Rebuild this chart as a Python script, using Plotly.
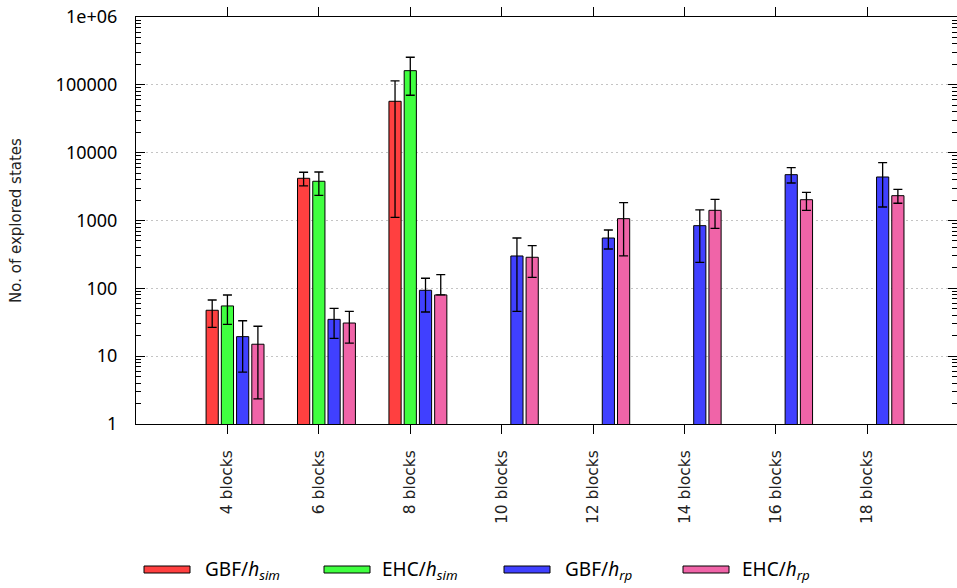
import plotly.graph_objects as go

# Problem sizes on the x axis
categories = ["4 blocks", "6 blocks", "8 blocks", "10 blocks",
              "12 blocks", "14 blocks", "16 blocks", "18 blocks"]

# Mean number of explored states, with low / high bounds of the error bars
gbf_sim      = [47.5, 4190, 57200, None, None, None, None, None]
gbf_sim_low  = [26.6, 3230, 1115, None, None, None, None, None]
gbf_sim_high = [67.3, 5140, 114000, None, None, None, None, None]

ehc_sim      = [55, 3790, 161800, None, None, None, None, None]
ehc_sim_low  = [29.5, 2350, 70200, None, None, None, None, None]
ehc_sim_high = [79.8, 5190, 254900, None, None, None, None, None]

gbf_rp      = [19.4, 34.9, 93.6, 300, 552, 839, 4740, 4380]
gbf_rp_low  = [5.8, 18.3, 44.8, 45.8, 380, 242, 3570, 1580]
gbf_rp_high = [33.3, 50.7, 140.7, 552, 724, 1430, 6010, 7110]

ehc_rp      = [15.0, 30.8, 80, 287, 1064, 1413, 2027, 2322]
ehc_rp_low  = [2.34, 15.6, 80, 145, 300, 767, 1413, 1795]
ehc_rp_high = [27.6, 45.8, 158.9, 425, 1832, 2055, 2606, 2884]

series = [
    ("GBF/<i>h</i><sub><i>sim</i></sub>", gbf_sim, gbf_sim_low, gbf_sim_high, "rgb(255,64,64)"),
    ("EHC/<i>h</i><sub><i>sim</i></sub>", ehc_sim, ehc_sim_low, ehc_sim_high, "rgb(64,255,64)"),
    ("GBF/<i>h</i><sub><i>rp</i></sub>", gbf_rp, gbf_rp_low, gbf_rp_high, "rgb(64,64,255)"),
    ("EHC/<i>h</i><sub><i>rp</i></sub>", ehc_rp, ehc_rp_low, ehc_rp_high, "rgb(240,100,168)"),
]

# Clustered layout: slot pitch 1/6 of a group, box width 0.8 of a slot
slot = 1.0 / 6.0
box_w = 0.8 * slot
positions = list(range(len(categories)))

fig = go.Figure()
for j, (name, vals, lows, highs, color) in enumerate(series):
    plus = [(h - v) if v is not None else None for v, h in zip(vals, highs)]
    minus = [(v - l) if v is not None else None for v, l in zip(vals, lows)]
    fig.add_trace(go.Bar(
        x=positions, y=vals, name=name,
        width=box_w, offset=(j - 1) * slot - box_w / 2,
        marker=dict(color=color, line=dict(color="black", width=1)),
        error_y=dict(type="data", symmetric=False, array=plus, arrayminus=minus,
                     color="black", thickness=1.3, width=4.5),
        showlegend=False,
    ))

# Plot-area geometry in pixels (used for the hand-drawn key below the axis)
W, H = 957, 588
L, R, T, B = 136, 0, 17, 164
pw, ph = W - L - R, H - T - B


def px(xp):
    return (xp - L) / pw


def py(yp):
    return (H - B - yp) / ph


key_items = [(144, 203), (324, 380), (504, 563), (683, 740)]
shapes, annotations = [], []
for (sx, tx), (name, _, _, _, color) in zip(key_items, series):
    shapes.append(dict(type="rect", xref="paper", yref="paper",
                       x0=px(sx), x1=px(sx + 46), y0=py(573), y1=py(566),
                       fillcolor=color, line=dict(color="black", width=1)))
    annotations.append(dict(xref="paper", yref="paper", x=px(tx), y=py(570),
                            xanchor="left", yanchor="middle", showarrow=False,
                            text=name,
                            font=dict(family="Noto Sans", size=19, color="black")))

major = [1, 10, 100, 1000, 10000, 100000, 1000000]
major_text = ["1", "10", "100", "1000", "10000", "100000", "1e+06"]
minor_vals = [k * 10 ** d for d in range(6) for k in range(2, 10)]

fig.update_layout(
    width=W, height=H,
    margin=dict(l=L, r=R, t=T, b=B, pad=0),
    plot_bgcolor="white", paper_bgcolor="white",
    barmode="overlay",
    shapes=shapes, annotations=annotations,
    xaxis=dict(
        range=[-1, 7.98], tickmode="array", tickvals=positions, ticktext=categories,
        tickangle=-90, ticks="outside", ticklen=9, tickcolor="black", tickwidth=1,
        showline=True, linecolor="black", linewidth=1, mirror="ticks",
        showgrid=False, zeroline=False, ticklabelstandoff=10,
        tickfont=dict(family="DejaVu Sans", size=15.5, color="#222"),
    ),
    yaxis=dict(
        type="log", range=[0, 6], tickmode="array", tickvals=major, ticktext=major_text,
        ticks="inside", ticklen=9, tickcolor="black", tickwidth=1,
        minor=dict(tickmode="array", tickvals=minor_vals, ticks="inside", ticklen=5,
                   tickcolor="black", showgrid=False),
        showline=True, linecolor="black", linewidth=1, mirror="ticks",
        showgrid=True, gridcolor="#c4c4c4", griddash="2px,3px", gridwidth=1,
        zeroline=False, ticklabelstandoff=14,
        tickfont=dict(family="Noto Sans", size=18, color="black"),
        title=dict(text="No. of explored states", standoff=30,
                   font=dict(family="DejaVu Sans", size=15, color="#222")),
    ),
)

fig.write_html("out.html")
